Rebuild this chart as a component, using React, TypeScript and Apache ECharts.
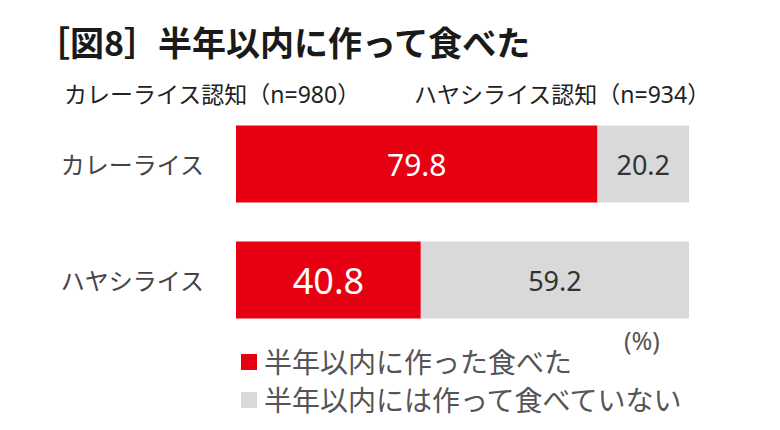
import { useRef, useEffect } from 'react'
import * as echarts from 'echarts'

const TITLE = '［図8］半年以内に作って食べた'
const SUBTITLES = ['カレーライス認知（n=980）', 'ハヤシライス認知（n=934）']
const UNIT = '(%)'

const categories = ['カレーライス', 'ハヤシライス']
const seriesNames = ['半年以内に作った食べた', '半年以内には作って食べていない']
const ateValues = [79.8, 40.8]
const notAteValues = [20.2, 59.2]

const RED = '#e60012'
const GRAY = '#d9d9d9'
const FONT = "'Noto Sans', 'Noto Sans CJK JP', sans-serif"

// label sizes differ a bit in the original
const ateLabelSizes = [30, 36]

export default function App() {
  const chartRef = useRef<HTMLDivElement>(null)

  useEffect(() => {
    document.body.style.margin = '0'
    if (!chartRef.current) return
    const chart = echarts.init(chartRef.current, undefined, { renderer: 'svg' })

    const option: echarts.EChartsOption = {
      animation: false,
      textStyle: { fontFamily: FONT },
      title: {
        text: TITLE,
        left: 31,
        top: 19,
        textStyle: { fontSize: 34, fontWeight: 'bold', color: '#1a1a1a', fontFamily: "'Noto Sans CJK JP', sans-serif" },
      },
      graphic: [
        {
          type: 'text',
          left: 64,
          top: 82,
          style: { text: SUBTITLES[0], fontSize: 23, fill: '#222', fontFamily: FONT },
        },
        {
          type: 'text',
          left: 414,
          top: 82,
          style: { text: SUBTITLES[1], fontSize: 23, fill: '#222', fontFamily: FONT },
        },
        {
          type: 'text',
          left: 624,
          top: 327,
          style: { text: UNIT, fontSize: 25, fill: '#555', fontFamily: FONT },
        },
      ],
      legend: {
        data: seriesNames,
        orient: 'vertical',
        left: 236,
        top: 343,
        icon: 'rect',
        itemWidth: 16,
        itemHeight: 16,
        itemGap: 10,
        textStyle: { fontSize: 28, color: '#555', fontFamily: FONT, padding: [0, 0, 0, 2] },
      },
      grid: { left: 236, right: 91, top: 106, height: 232 },
      xAxis: {
        type: 'value',
        min: 0,
        max: 100,
        show: false,
      },
      yAxis: {
        type: 'category',
        data: categories,
        inverse: true,
        axisLine: { show: false },
        axisTick: { show: false },
        axisLabel: { fontSize: 24, color: '#444', margin: 32, fontFamily: FONT },
      },
      series: [
        {
          name: seriesNames[0],
          type: 'bar',
          stack: 'total',
          barWidth: 77,
          itemStyle: { color: RED },
          data: ateValues.map((v, i) => ({
            value: v,
            label: { fontSize: ateLabelSizes[i] },
          })),
          label: {
            show: true,
            position: 'inside',
            color: '#fff',
            fontFamily: FONT,
            formatter: (p: any) => Number(p.value).toFixed(1),
          },
        },
        {
          name: seriesNames[1],
          type: 'bar',
          stack: 'total',
          barWidth: 77,
          itemStyle: { color: GRAY },
          data: notAteValues,
          label: {
            show: true,
            position: 'inside',
            color: '#333',
            fontSize: 27,
            fontFamily: FONT,
            formatter: (p: any) => Number(p.value).toFixed(1),
          },
        },
      ],
    }

    chart.setOption(option)
    return () => chart.dispose()
  }, [])

  return <div ref={chartRef} style={{ width: 780, height: 430, background: '#fff' }} />
}
